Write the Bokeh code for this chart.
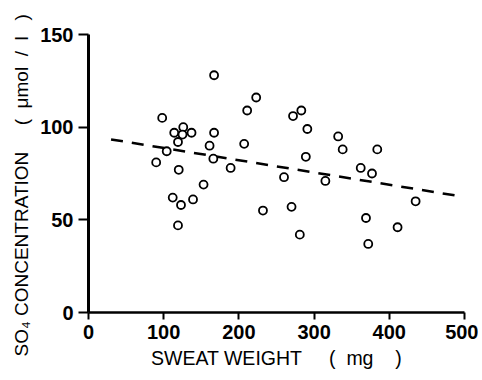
from bokeh.plotting import figure
from bokeh.embed import file_html
from bokeh.resources import INLINE
from bokeh.models import FixedTicker, Range1d, Title

# sweat weight (mg) and SO4 concentration (umol/l)
sweat_mg = [167, 223, 211, 98, 126, 114, 137, 167, 125, 119,
            207, 161, 104, 166, 189, 90, 120, 153, 112, 123,
            139, 232, 119, 283, 272, 291, 332, 338, 384, 289,
            362, 377, 260, 315, 435, 270, 369, 411, 281, 372]
so4_umol = [128, 116, 109, 105, 100, 97, 97, 97, 96, 92,
            91, 90, 87, 83, 78, 81, 77, 69, 62, 58,
            61, 55, 47, 109, 106, 99, 95, 88, 88, 84,
            78, 75, 73, 71, 60, 57, 51, 46, 42, 37]

# regression line end points
fit_x = [30, 490]
fit_y = [93.4, 63.0]

x_ticks = [0, 100, 200, 300, 400, 500]
y_ticks = [0, 50, 100, 150]

NB = "\u00a0"
x_title = "SWEAT WEIGHT" + NB * 5 + "(" + NB * 2 + "mg" + NB * 4 + ")"
y_title = ("SO\u2084 CONCENTRATION" + NB * 5 + "(" + NB * 2 +
           "\u03bcmol" + NB * 2 + "/" + NB * 2 + "l" + NB * 3 + ")")

font = "Liberation Sans"

p = figure(frame_width=376, frame_height=278,
           min_border_left=88, min_border_top=34,
           min_border_right=14, min_border_bottom=60,
           x_range=Range1d(0, 500), y_range=Range1d(0, 150),
           output_backend="svg", toolbar_location=None)

p.outline_line_color = None
p.grid.visible = False
p.background_fill_color = "white"
p.border_fill_color = "white"

p.line(fit_x, fit_y, line_color="black", line_width=2.5, line_dash="12 9")
p.scatter(sweat_mg, so4_umol, marker="circle", size=8,
          fill_color="white", line_color="black", line_width=1.8)

for ax in (p.xaxis[0], p.yaxis[0]):
    ax.axis_line_color = "black"
    ax.major_tick_line_color = "black"
    ax.major_tick_line_width = 2
    ax.minor_tick_line_color = None
    ax.major_tick_in = 0
    ax.major_label_text_font = font
    ax.major_label_text_font_size = "20px"
    ax.major_label_text_font_style = "bold"
    ax.major_label_text_color = "black"
    ax.axis_label_text_font = font
    ax.axis_label_text_font_size = "19.5px"
    ax.axis_label_text_font_style = "normal"
    ax.axis_label_text_color = "black"

p.xaxis.ticker = FixedTicker(ticks=x_ticks)
p.yaxis.ticker = FixedTicker(ticks=y_ticks)
p.xaxis.axis_line_width = 2.5
p.yaxis.axis_line_width = 3
p.xaxis.major_tick_out = 7
p.yaxis.major_tick_out = 10
p.xaxis.major_label_standoff = 5
p.yaxis.major_label_standoff = 5
p.xaxis.axis_label = x_title
p.xaxis.axis_label_standoff = 5

# vertical axis title: starts below the frame bottom, as in the reference
ytitle = Title(text=y_title, align="left", offset=-44, standoff=11,
               text_font=font, text_font_size="19px",
               text_font_style="normal", text_color="black")
p.add_layout(ytitle, "left")

open("out.html", "w").write(file_html(p, INLINE))
